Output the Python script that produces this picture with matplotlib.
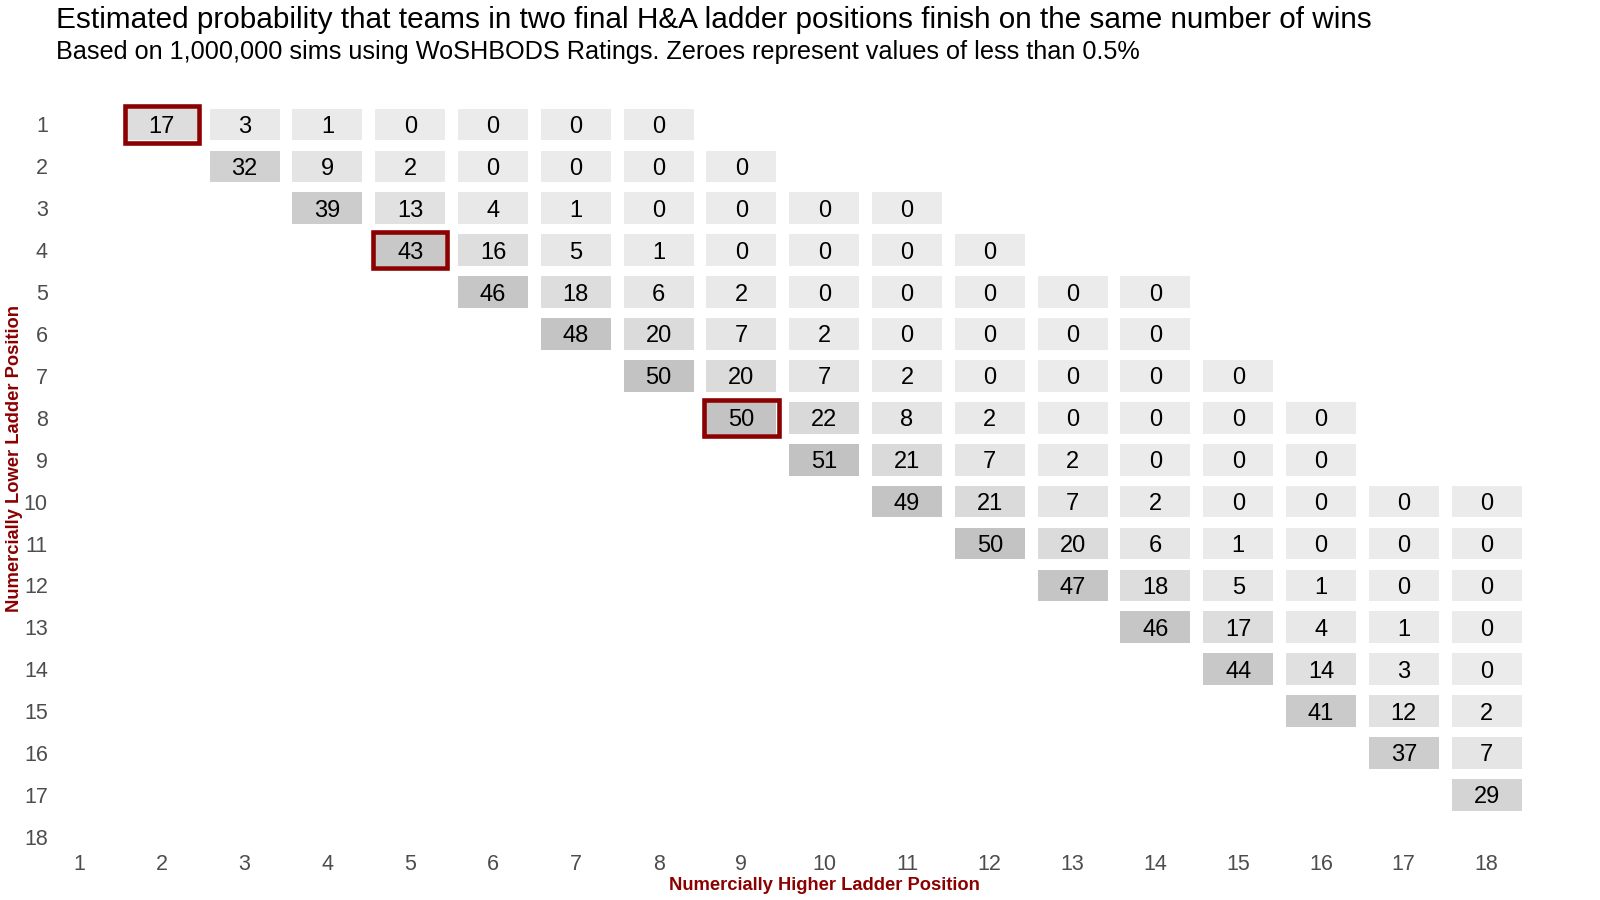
import matplotlib
matplotlib.use("Agg")
import matplotlib.pyplot as plt
from matplotlib.patches import Rectangle
import numpy as np

plt.rcParams['font.family'] = ['Liberation Sans', 'DejaVu Sans']

# ---- data ----
positions = list(range(1, 19))
# values per row (numerically lower ladder position); first value is at column row+1
row_values = {
    1: [17, 3, 1, 0, 0, 0, 0],
    2: [32, 9, 2, 0, 0, 0, 0],
    3: [39, 13, 4, 1, 0, 0, 0, 0],
    4: [43, 16, 5, 1, 0, 0, 0, 0],
    5: [46, 18, 6, 2, 0, 0, 0, 0, 0],
    6: [48, 20, 7, 2, 0, 0, 0, 0],
    7: [50, 20, 7, 2, 0, 0, 0, 0],
    8: [50, 22, 8, 2, 0, 0, 0, 0],
    9: [51, 21, 7, 2, 0, 0, 0],
    10: [49, 21, 7, 2, 0, 0, 0, 0],
    11: [50, 20, 6, 1, 0, 0, 0],
    12: [47, 18, 5, 1, 0, 0],
    13: [46, 17, 4, 1, 0],
    14: [44, 14, 3, 0],
    15: [41, 12, 2],
    16: [37, 7],
    17: [29],
}
highlight_cells = [(1, 2), (4, 5), (8, 9)]  # (row, col)

title = "Estimated probability that teams in two final H&A ladder positions finish on the same number of wins"
subtitle = "Based on 1,000,000 sims using WoSHBODS Ratings. Zeroes represent values of less than 0.5%"
xlabel = "Numercially Higher Ladder Position"
ylabel = "Numercially Lower Ladder Position"

# ---- figure ----
W, H = 1600, 900
fig = plt.figure(figsize=(16, 9), dpi=100)

# pixel geometry
col1_px, col_sp = 79.0, 82.8
row1_px, row_sp = 124.5, 41.9
L_px, R_px, T_px, B_px = 52, 1540, 100, 850
ax = fig.add_axes([L_px / W, 1 - B_px / H, (R_px - L_px) / W, (B_px - T_px) / H])
ax.set_xlim(1 + (L_px - col1_px) / col_sp, 1 + (R_px - col1_px) / col_sp)
ax.set_ylim(1 + (B_px - row1_px) / row_sp, 1 + (T_px - row1_px) / row_sp)

tw, th = 0.845, 0.756
vmax = 51.0
lo, hi = 235.0, 194.0

def grey(v):
    g = lo + (hi - lo) * min(v, vmax) / vmax
    return (g / 255, g / 255, g / 255)

label_fs = 17
baseline_off = 0.716 * label_fs * 100 / 72 / 2 / row_sp
for r, vals in row_values.items():
    for i, v in enumerate(vals):
        c = r + 1 + i
        ax.add_patch(Rectangle((c - tw / 2, r - th / 2), tw, th, facecolor=grey(v),
                               edgecolor='none', zorder=1))
        ax.text(c, r + baseline_off, str(v), ha='center', va='baseline',
                fontsize=label_fs, color='black', zorder=3)

bw = tw + 4.6 / col_sp
bh = th + 4.4 / row_sp
for r, c in highlight_cells:
    ax.add_patch(Rectangle((c - bw / 2, r - bh / 2), bw, bh, facecolor='none',
                           edgecolor='#8b0000', linewidth=3.3, zorder=2))

ax.set_xticks(positions)
ax.set_yticks(positions)
ax.set_xticklabels([str(p) for p in positions])
ax.set_yticklabels([str(p) for p in positions])
ax.tick_params(axis='both', length=0, labelsize=15.5, labelcolor='#4d4d4d')
ax.tick_params(axis='x', pad=3)
ax.tick_params(axis='y', pad=3)
for s in ax.spines.values():
    s.set_visible(False)

fig.text(56 / W, 1 - 28.5 / H, title, fontsize=21.4, ha='left', va='baseline', color='black')
fig.text(56 / W, 1 - 58.5 / H, subtitle, fontsize=18.2, ha='left', va='baseline', color='black')
fig.text(824 / W, 1 - 885 / H, xlabel, fontsize=13.2, fontweight='bold', color='#8b0000',
         ha='center', va='center')
fig.text(15 / W, 1 - 458 / H, ylabel, fontsize=13.2, fontweight='bold', color='#8b0000',
         ha='center', va='center', rotation=90)

fig.savefig("out.png", dpi=100, facecolor='white')
